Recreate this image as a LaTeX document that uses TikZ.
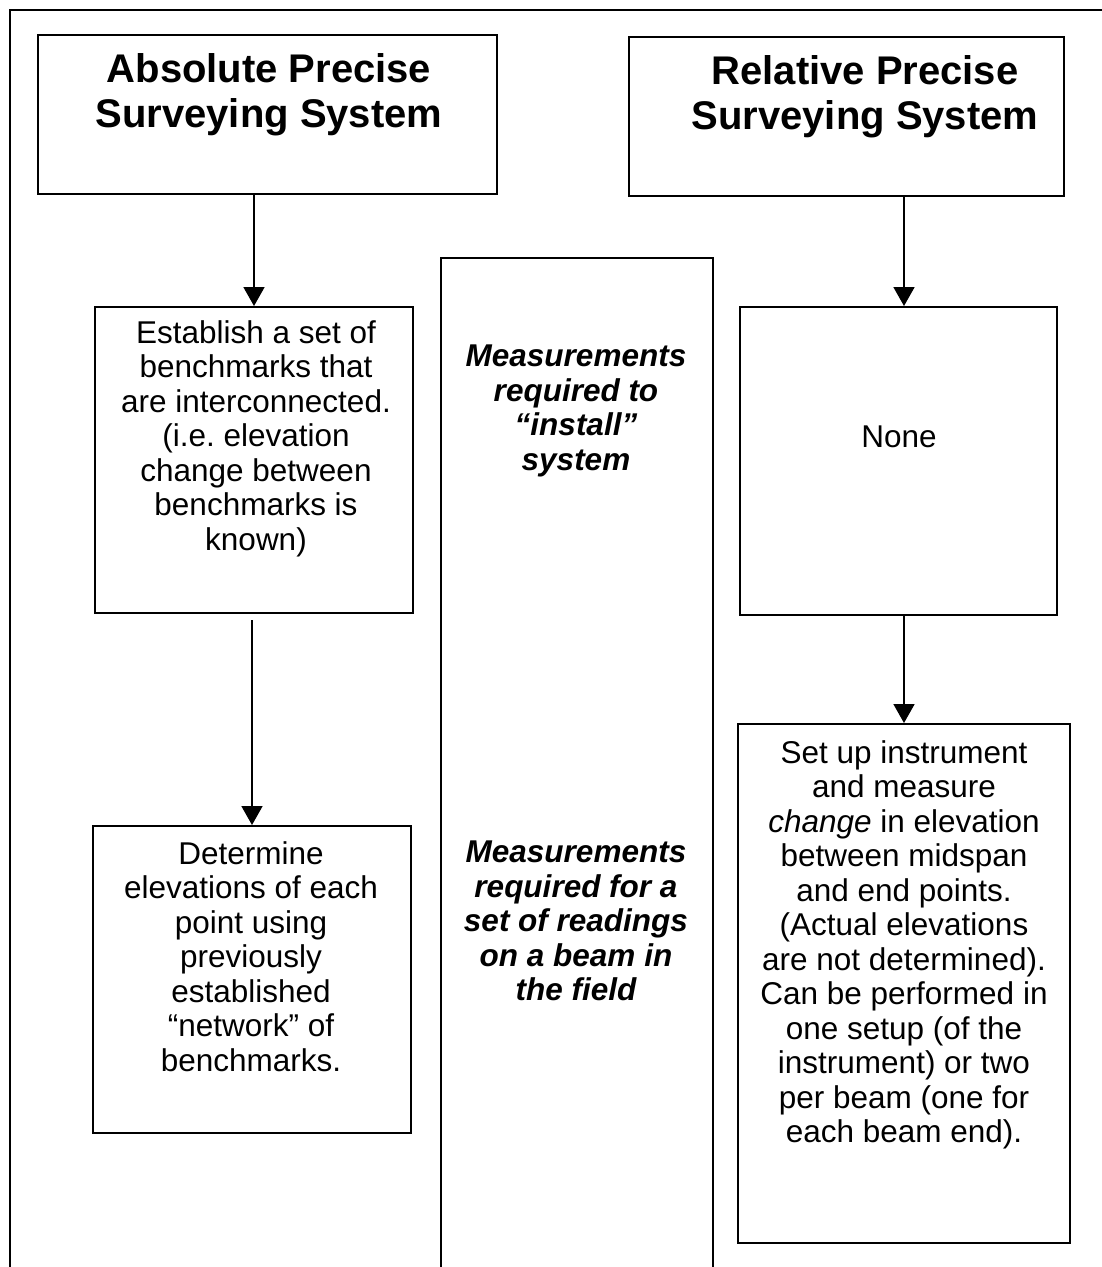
\documentclass[tikz,border=0pt]{standalone}
\usepackage{fontspec}
\setmainfont{Liberation Sans}
\usetikzlibrary{arrows.meta,positioning}
\frenchspacing

\begin{document}
\begin{tikzpicture}[x=1pt,y=1pt]
                \tikzstyle{every node}+=[inner sep=0pt]
                \tikzstyle{box}=[draw=black, line width=2pt, rectangle]
                \tikzstyle{head}=[font=\fontsize{40}{45}\selectfont\bfseries, align=center, anchor=north]
                \tikzstyle{body}=[font=\fontsize{31.5}{34.5}\selectfont, align=center, anchor=north]
                \tikzstyle{note}=[body, font=\fontsize{31.5}{34.5}\selectfont\bfseries\itshape]
                \tikzstyle{arr}=[line width=1.8pt, -{Triangle[width=21pt,length=19pt]}]
                \useasboundingbox (0,0) rectangle (1102,-1267);
                \clip (0,0) rectangle (1102,-1267);
                % outer frame, open to the right and bottom
                \draw [line width=2.4pt] (1120,-10) -- (10,-10) -- (10,-1290);
                % the two systems
                \node [box, minimum width=459pt, minimum height=159pt] (abs) at (267.5,-114.5) {};
                \node [head] (absT) at (269,-53) {Absolute Precise\\Surveying System};
                \node [box, minimum width=435pt, minimum height=159pt] (rel) at (846,-116.5) {};
                \node [head] (relT) at (865,-55) {Relative Precise\\Surveying System};
                % left column
                \node [box, minimum width=318pt, minimum height=306pt] (est) at (254,-460) {};
                \node [body] (estT) at (256,-320) {Establish a set of\\benchmarks that\\are interconnected.\\(i.e. elevation\\change between\\benchmarks is\\known)};
                \node [box, minimum width=318pt, minimum height=307pt] (det) at (252,-979.5) {};
                \node [body] (detT) at (251,-841) {Determine\\elevations of each\\point using\\previously\\established\\“network” of\\benchmarks.};
                % middle column, runs off the bottom
                \node [box, minimum width=272pt, minimum height=1040pt] (mid) at (577,-778) {};
                \node [note] (instT) at (576,-345) {Measurements\\required to\\“install”\\system};
                \node [note] (fieldT) at (576,-841) {Measurements\\required for a\\set of readings\\on a beam in\\the field};
                % right column
                \node [box, minimum width=317pt, minimum height=308pt] (none) at (898.5,-461) {};
                \node [body] (noneT) at (899,-426) {None};
                \node [box, minimum width=332pt, minimum height=519pt] (set) at (904,-983.5) {};
                \node [body] (setT) at (904,-740) {Set up instrument\\and measure\\\emph{change} in elevation\\between midspan\\and end points.\\(Actual elevations\\are not determined).\\Can be performed in\\one setup (of the\\instrument) or two\\per beam (one for\\each beam end).};
                % arrows
                \draw [arr] (est.north |- abs.south) -- (est.north);
                \draw [arr] ([yshift=-6pt]det.north |- est.south) -- (det.north);
                \draw [arr] (set.north |- rel.south) -- (set.north |- none.north);
                \draw [arr] (set.north |- none.south) -- (set.north);
\end{tikzpicture}
\end{document}
